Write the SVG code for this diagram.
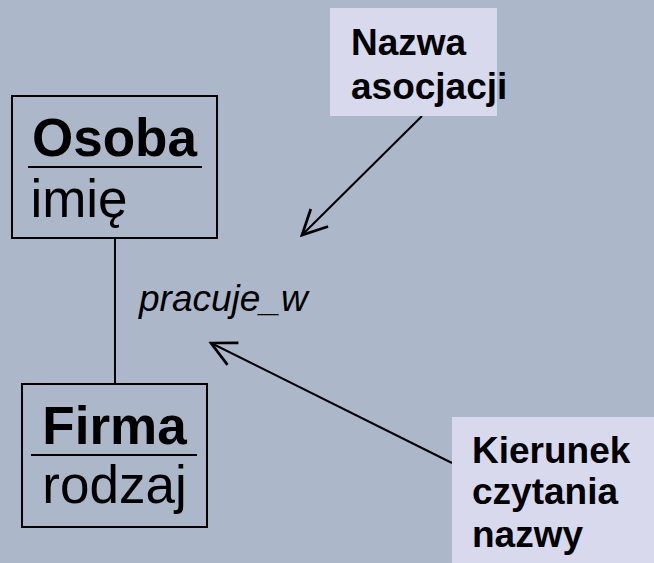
<svg xmlns="http://www.w3.org/2000/svg" width="654" height="563" viewBox="0 0 654 563">
<style>
.box{fill:none;stroke:#000;stroke-width:2}
.sep{stroke:#000;stroke-width:2}
.call{fill:#D9D9ED;stroke:none}
.t{font-family:"Liberation Sans",Arial,sans-serif;fill:#000}
.title{font-size:53px;font-weight:bold;text-anchor:middle}
.attr{font-size:53px;text-anchor:middle}
.note{font-size:37px;font-weight:bold}
.lbl{font-size:37px;font-style:italic}
.conn{stroke:#000;stroke-width:2;fill:none}
</style>
<defs>
<marker id="open" markerUnits="userSpaceOnUse" markerWidth="30" markerHeight="30" refX="20" refY="10" viewBox="0 0 22 20" orient="auto">
<path d="M2,1 L20,10 L2,19" fill="none" stroke="#000" stroke-width="2"/>
</marker>
</defs>
<rect width="654" height="563" fill="#ADB7CA"/>
<g id="connectors">
<line class="conn" x1="115" y1="238" x2="115" y2="384"/>
<line class="conn" x1="422" y1="116" x2="302" y2="235" marker-end="url(#open)"/>
<line class="conn" x1="452" y1="463" x2="211" y2="343" marker-end="url(#open)"/>
</g>
<g id="osoba">
<rect class="box" x="12" y="96" width="205" height="142"/>
<line class="sep" x1="28" y1="167" x2="202" y2="167"/>
<text class="t title" x="114.5" y="156">Osoba</text>
<text class="t attr" x="79" y="217">imię</text>
</g>
<g id="firma">
<rect class="box" x="22" y="384" width="185" height="143"/>
<line class="sep" x1="31" y1="455" x2="197" y2="455"/>
<text class="t title" x="114.5" y="444">Firma</text>
<text class="t attr" x="114.5" y="503">rodzaj</text>
</g>
<g id="assoc-label">
<text class="t lbl" x="139" y="311">pracuje_w</text>
</g>
<g id="nazwa-note">
<rect class="call" x="330" y="8" width="167" height="108"/>
<text class="t note" x="351" y="55">Nazwa</text>
<text class="t note" x="351" y="99">asocjacji</text>
</g>
<g id="kierunek-note">
<rect class="call" x="452" y="417" width="202" height="146"/>
<text class="t note" x="472" y="463">Kierunek</text>
<text class="t note" x="472" y="504">czytania</text>
<text class="t note" x="472" y="547">nazwy</text>
</g>
</svg>
